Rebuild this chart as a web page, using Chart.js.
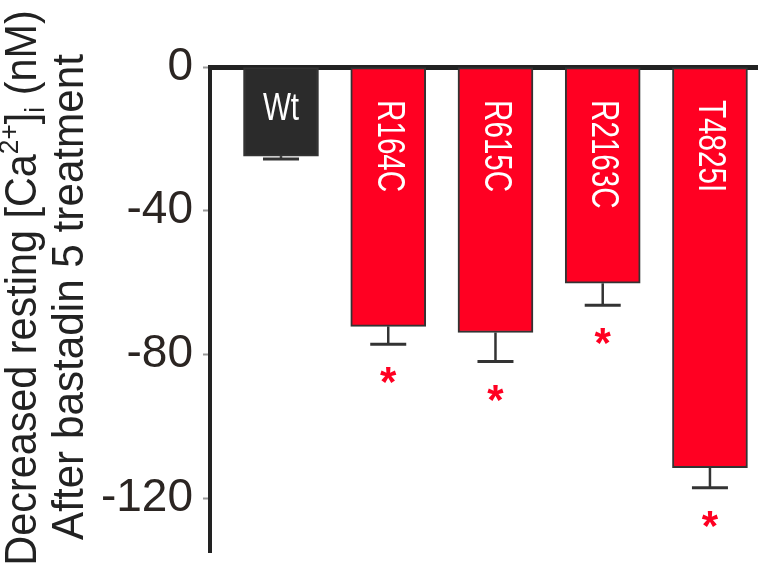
<!DOCTYPE html>
<html><head><meta charset="utf-8">
<script src="https://cdn.jsdelivr.net/npm/chart.js@4/dist/chart.umd.min.js"></script>
<style>html,body{margin:0;padding:0;background:#fff;}</style>
</head><body>
<canvas id="c" width="758" height="574"></canvas>
<script>
// ---- data ----
const categories = ['Wt', 'R164C', 'R615C', 'R2163C', 'T4825I'];
const values = [-24.8, -72.2, -73.9, -60.2, -111.5];
const errors = [0.8, 5.0, 8.1, 6.1, 5.6];
const significance = ['', '*', '*', '*', '*'];
const yTicks = [0, -40, -80, -120];
const yTitleLine1 = [['Decreased resting [Ca', 'n'], ['2+', 'sup'], [']', 'n'], ['i', 'sub'], [' (nM)', 'n']];
const yTitleLine2 = [['After bastadin 5 treatment', 'n']];

// ---- styles ----
const RED = '#ff0022';
const BLACKBAR = '#2b2b2b';
const barColors = categories.map((c, i) => i === 0 ? BLACKBAR : RED);

const points = values.map((v, i) => ({ x: i, y: v }));

const NARROW = 0.78;

const errorPlugin = {
  id: 'errorBars',
  afterDatasetsDraw(chart) {
    const ctx = chart.ctx;
    const meta = chart.getDatasetMeta(0);
    const ys = chart.scales.y;
    ctx.save();
    meta.data.forEach((bar, i) => {
      const yv = ys.getPixelForValue(values[i]);
      const ye = ys.getPixelForValue(values[i] - errors[i]);
      ctx.strokeStyle = '#333';
      ctx.lineWidth = 2.5;
      ctx.beginPath();
      ctx.moveTo(bar.x, yv);
      ctx.lineTo(bar.x, ye);
      ctx.stroke();
      ctx.lineWidth = 3;
      ctx.beginPath();
      ctx.moveTo(bar.x - 18, ye);
      ctx.lineTo(bar.x + 18, ye);
      ctx.stroke();
      if (significance[i]) {
        ctx.fillStyle = RED;
        ctx.font = 'bold 42px "Liberation Sans", Arial, sans-serif';
        ctx.textAlign = 'center';
        ctx.textBaseline = 'alphabetic';
        ctx.fillText(significance[i], bar.x, ye + 52);
      }
    });
    // labels inside bars (condensed sans)
    ctx.fillStyle = '#fff';
    ctx.font = '38px "Liberation Sans", Arial, sans-serif';
    const top = chart.chartArea.top;
    meta.data.forEach((bar, i) => {
      const txt = categories[i];
      const w = ctx.measureText(txt).width * NARROW;
      ctx.save();
      if (w < bar.width * 0.8) {
        ctx.translate(bar.x, top + 53);
        ctx.scale(NARROW, 1);
        ctx.textAlign = 'center';
        ctx.textBaseline = 'alphabetic';
        ctx.fillText(txt, 0, 0);
      } else {
        ctx.translate(bar.x, top + 33);
        ctx.rotate(Math.PI / 2);
        ctx.scale(NARROW, 1);
        ctx.textAlign = 'left';
        ctx.textBaseline = 'middle';
        ctx.fillText(txt, 0, 0);
      }
      ctx.restore();
    });
    ctx.restore();
  }
};

const yTitlePlugin = {
  id: 'yTitle',
  afterDraw(chart) {
    const ctx = chart.ctx;
    const main = '44px "Liberation Sans", Arial, sans-serif';
    const small = '28px "Liberation Sans", Arial, sans-serif';
    const drawLine = (parts, x, cy, sx) => {
      ctx.save();
      ctx.translate(x, cy);
      ctx.rotate(-Math.PI / 2);
      ctx.scale(sx, 1);
      ctx.fillStyle = '#222';
      ctx.textBaseline = 'middle';
      ctx.textAlign = 'left';
      let total = 0;
      parts.forEach(([t, k]) => { ctx.font = k === 'n' ? main : small; total += ctx.measureText(t).width; });
      let px = -total / 2;
      parts.forEach(([t, k]) => {
        ctx.font = k === 'n' ? main : small;
        const dy = k === 'sup' ? -14 : (k === 'sub' ? 12 : 0);
        ctx.fillText(t, px, dy);
        px += ctx.measureText(t).width;
      });
      ctx.restore();
    };
    drawLine(yTitleLine1, 24, 288, 0.94);
    drawLine(yTitleLine2, 71, 297, 0.96);
  }
};

new Chart(document.getElementById('c'), {
  type: 'bar',
  data: {
    labels: categories,
    datasets: [{
      data: points,
      backgroundColor: barColors,
      borderColor: '#333',
      borderWidth: 2,
      borderSkipped: false,
      barThickness: 75
    }]
  },
  options: {
    responsive: false,
    animation: false,
    devicePixelRatio: 1,
    layout: { padding: { top: 67, right: 0, bottom: 22, left: 0 } },
    plugins: { legend: { display: false }, tooltip: { enabled: false } },
    scales: {
      x: {
        type: 'linear',
        position: 'top',
        offset: false,
        min: -0.662,
        max: 4.448,
        z: 1,
        grid: { display: false },
        ticks: { display: false },
        border: { display: true, color: '#222', width: 5 },
        afterFit(s) { s.height = 0; s.paddingLeft = 0; s.paddingRight = 0; }
      },
      y: {
        min: -135,
        max: 0,
        z: 1,
        afterFit(s) { s.width = 210; s.paddingTop = 0; s.paddingBottom = 0; },
        afterBuildTicks(s) { s.ticks = yTicks.map(v => ({ value: v })); },
        ticks: {
          font: { family: '"Liberation Sans", Arial, sans-serif', size: 46 },
          color: '#2b2522',
          padding: 10
        },
        grid: { drawOnChartArea: false, drawTicks: true, tickLength: 7, color: '#999', tickWidth: 2 },
        border: { display: true, color: '#222', width: 4 }
      }
    }
  },
  plugins: [errorPlugin, yTitlePlugin]
});
</script>
</body></html>
